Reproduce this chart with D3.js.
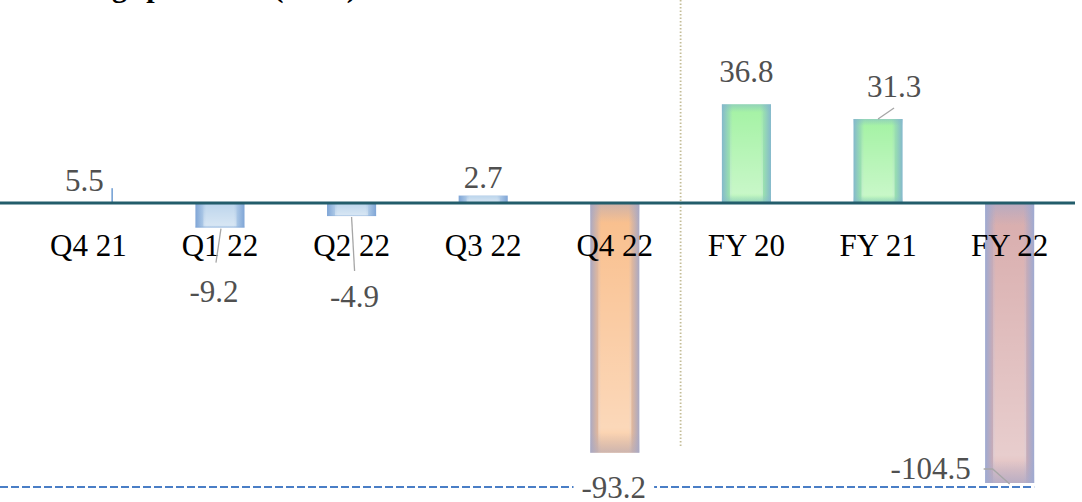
<!DOCTYPE html>
<html>
<head>
<meta charset="utf-8">
<script src="https://cdn.jsdelivr.net/npm/d3@7"></script>
<style>
  html, body { margin: 0; padding: 0; background: #fff; }
  svg { display: block; }
  .cat { font-family: "Palatino Linotype", "Book Antiqua", Palatino, "Liberation Serif", serif; font-size: 31px; fill: #000; }
  .val { font-family: "Palatino Linotype", "Book Antiqua", Palatino, "Liberation Serif", serif; font-size: 31px; fill: #505050; }
  .title { font-family: "Palatino Linotype", "Book Antiqua", Palatino, "Liberation Serif", serif; font-size: 30px; font-weight: bold; fill: #000; }
</style>
</head>
<body>
<svg id="chart" width="1082" height="502"></svg>
<script>
const W = 1082;
const H = 502;

const categories = ["Q4 21", "Q1 22", "Q2 22", "Q3 22", "Q4 22", "FY 20", "FY 21", "FY 22"];
const values = [5.5, -9.2, -4.9, 2.7, -93.2, 36.8, 31.3, -104.5];
const valueLabels = ["5.5", "-9.2", "-4.9", "2.7", "-93.2", "36.8", "31.3", "-104.5"];
const groups = ["q", "q", "q", "q", "q4", "fy", "fy", "fy22"];
const floorValue = -106;

// label offsets from the bar end (dx, dy) and optional leader line
const labelLayout = [
  { dx: -4, dy: 3 },
  { dx: -6, dy: 74, leader: [[1, 1], [-4, 35]] },
  { dx: 3, dy: 91, leader: [[0, 1], [3, 55]] },
  { dx: 0, dy: -8 },
  { dx: -1, dy: 45 },
  { dx: 0, dy: -22 },
  { dx: 16, dy: -22, leader: [[0, 0], [16, -11]] },
  { dx: -79, dy: -4, leader: [[0, 1], [-17, -14], [-26, -14]] },
];

const svg = d3.select("#chart");
const defs = svg.append("defs");

const palettes = {
  q: { edge: "#7fa5d6", mid: "#bcd5ec" },
  q4: { edge: "#a9a9c4", mid: "#f9be8b" },
  fy: { edge: "#84b8cc", mid: "#a3f2a3" },
  fy22: { edge: "#9eaad2", mid: "#d8acac" },
};

Object.entries(palettes).forEach(([k, p]) => {
  const gr = defs.append("linearGradient").attr("id", "g-" + k)
    .attr("x1", "0").attr("x2", "1").attr("y1", "0").attr("y2", "0");
  gr.append("stop").attr("offset", "0%").attr("stop-color", p.edge);
  gr.append("stop").attr("offset", "22%").attr("stop-color", p.mid);
  gr.append("stop").attr("offset", "78%").attr("stop-color", p.mid);
  gr.append("stop").attr("offset", "100%").attr("stop-color", p.edge);
  const vg = defs.append("linearGradient").attr("id", "v-" + k)
    .attr("x1", "0").attr("x2", "0").attr("y1", "0").attr("y2", "1");
  vg.append("stop").attr("offset", "0%").attr("stop-color", p.edge).attr("stop-opacity", 0.55);
  vg.append("stop").attr("offset", "8%").attr("stop-color", p.edge).attr("stop-opacity", 0);
  vg.append("stop").attr("offset", "92%").attr("stop-color", p.edge).attr("stop-opacity", 0);
  vg.append("stop").attr("offset", "100%").attr("stop-color", p.edge).attr("stop-opacity", 0.55);
});

// soft highlight towards the bottom of the bars
const hl = defs.append("linearGradient").attr("id", "hl")
  .attr("x1", "0").attr("x2", "0").attr("y1", "0").attr("y2", "1");
hl.append("stop").attr("offset", "0%").attr("stop-color", "#fff").attr("stop-opacity", 0);
hl.append("stop").attr("offset", "90%").attr("stop-color", "#fff").attr("stop-opacity", 0.4);
hl.append("stop").attr("offset", "100%").attr("stop-color", "#fff").attr("stop-opacity", 0.1);

const x = d3.scaleBand().domain(categories).range([23, 1075]).paddingInner(0.627).paddingOuter(0.31);
const y = d3.scaleLinear().domain([-104.5, 36.8]).range([483, 104.3]);

// title (mostly cut off at top)
svg.append("text").attr("class", "title").attr("x", 22).attr("y", -3)
  .text("Earnings per share (EUR)");

// separator between quarters and full years
const sepX = (x("Q4 22") + x.bandwidth() + x("FY 20")) / 2;
svg.append("line")
  .attr("x1", sepX).attr("x2", sepX).attr("y1", 0).attr("y2", 446)
  .attr("stroke", "#c4bd98").attr("stroke-width", 1.8).attr("stroke-dasharray", "1.5,2");

// floor reference dashed line
svg.append("line")
  .attr("x1", 0).attr("x2", x("FY 22") + x.bandwidth())
  .attr("y1", y(floorValue)).attr("y2", y(floorValue))
  .attr("stroke", "#4a7ec6").attr("stroke-width", 2).attr("stroke-dasharray", "8,3");

const data = categories.map((c, i) => ({ c, v: values[i], label: valueLabels[i], g: groups[i], lay: labelLayout[i] }));

// bars
const bars = svg.append("g");
data.forEach((d, i) => {
  const y0 = y(0), y1 = y(d.v);
  const top = Math.min(y0, y1), h = Math.abs(y1 - y0);
  if (i === 0) {
    // only the right edge of this bar shows
    bars.append("rect").attr("x", x(d.c) + x.bandwidth() - 1.5).attr("y", top)
      .attr("width", 1.5).attr("height", h).attr("fill", "#6f9dd3");
    return;
  }
  bars.append("rect").attr("x", x(d.c)).attr("y", top)
    .attr("width", x.bandwidth()).attr("height", h)
    .attr("fill", `url(#g-${d.g})`);
  bars.append("rect").attr("x", x(d.c) + 8).attr("y", top)
    .attr("width", x.bandwidth() - 16).attr("height", h)
    .attr("fill", "url(#hl)");
  bars.append("rect").attr("x", x(d.c)).attr("y", top)
    .attr("width", x.bandwidth()).attr("height", h)
    .attr("fill", `url(#v-${d.g})`);
});

// zero line
svg.append("line")
  .attr("x1", 0).attr("x2", x.range()[1])
  .attr("y1", y(0)).attr("y2", y(0))
  .attr("stroke", "#235d6b").attr("stroke-width", 3);

// category labels
svg.append("g").selectAll("text").data(data).join("text")
  .attr("class", "cat")
  .attr("x", (d) => x(d.c) + x.bandwidth() / 2)
  .attr("y", y(0) + 53)
  .attr("text-anchor", "middle")
  .text((d) => d.c);

// leader lines
const leaders = svg.append("g");
data.forEach((d) => {
  if (!d.lay.leader) return;
  const cx = x(d.c) + x.bandwidth() / 2, ey = y(d.v);
  leaders.append("path")
    .attr("d", d3.line()(d.lay.leader.map(([a, b]) => [cx + a, ey + b])))
    .attr("fill", "none").attr("stroke", "#a6a6a6").attr("stroke-width", 1.3);
});

// value labels with white background
const vals = svg.append("g");
data.forEach((d) => {
  const cx = x(d.c) + x.bandwidth() / 2 + d.lay.dx;
  const by = y(d.v) + d.lay.dy;
  const t = vals.append("text").attr("class", "val")
    .attr("x", cx).attr("y", by).attr("text-anchor", "middle").text(d.label);
  if (d.v < -50) {
    const bb = t.node().getBBox();
    vals.insert("rect", "text").attr("x", bb.x - 8).attr("y", bb.y + 4)
      .attr("width", bb.width + 16).attr("height", bb.height - 4).attr("fill", "#fff");
  }
});
</script>
</body>
</html>
